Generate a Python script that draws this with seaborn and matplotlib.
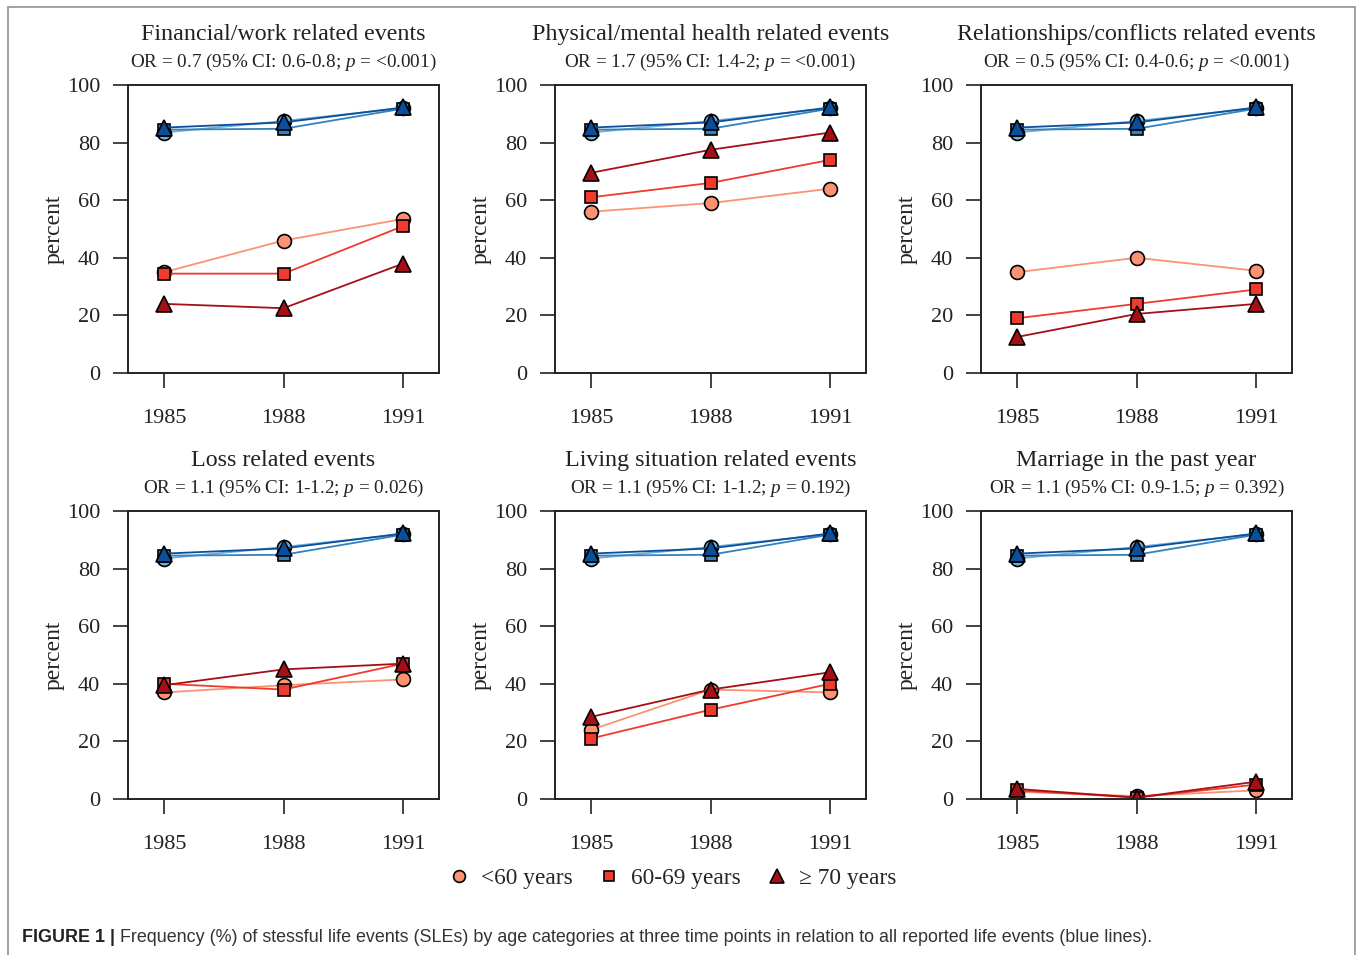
import matplotlib
matplotlib.use("Agg")
import matplotlib.pyplot as plt
import seaborn as sns
from matplotlib.lines import Line2D
from matplotlib.patches import Rectangle

# ---------------- data ----------------
years = [1985, 1988, 1991]

panel_titles = [
    "Financial/work related events",
    "Physical/mental health related events",
    "Relationships/conflicts related events",
    "Loss related events",
    "Living situation related events",
    "Marriage in the past year",
]
panel_or = ["0.7", "1.7", "0.5", "1.1", "1.1", "1.1"]
panel_ci = ["0.6-0.8", "1.4-2", "0.4-0.6", "1-1.2", "1-1.2", "0.9-1.5"]
panel_p = ["<0.001", "<0.001", "<0.001", "0.026", "0.192", "0.392"]

# stressful life events by age group (percent)
sle_lt60 = [
    [35, 46, 53.5],
    [56, 59, 64],
    [35, 40, 35.5],
    [37, 39.5, 41.5],
    [24, 38, 37],
    [2.5, 1, 3],
]
sle_60_69 = [
    [34.5, 34.5, 51],
    [61, 66, 74],
    [19, 24, 29],
    [40, 38, 47],
    [21, 31, 40],
    [3, 0.5, 5],
]
sle_ge70 = [
    [24, 22.5, 38],
    [69.5, 77.5, 83.5],
    [12.5, 20.5, 24],
    [39.5, 45, 47],
    [28.5, 38, 44],
    [3.5, 0.5, 6],
]

# all reported life events (blue lines), same in every panel
all_lt60 = [83.5, 87.5, 92]
all_60_69 = [84.5, 84.8, 91.8]
all_ge70 = [85.2, 87, 92.2]

age_labels = ["<60 years", "60-69 years", "\u2265 70 years"]
y_ticks = [0, 20, 40, 60, 80, 100]

# ---------------- style ----------------
sns.set_style("ticks")
plt.rcParams["font.family"] = ["Liberation Serif", "DejaVu Serif"]
plt.rcParams["mathtext.fontset"] = "custom"
plt.rcParams["mathtext.rm"] = "Liberation Serif"
plt.rcParams["mathtext.it"] = "Liberation Serif:italic"

red_cols = ["#FC9272", "#EF3B2C", "#A50F15"]
blue_cols = ["#6BAED6", "#3182BD", "#0B4F9C"]
markers = ["o", "s", "^"]
msizes = [10, 8.8, 11.5]

W, H = 1358, 955
fig = plt.figure(figsize=(W / 100, H / 100), dpi=100)

ax_left_px = [128, 555, 981]
ax_w_px = 311
row_top_px = [85, 511]
ax_h_px = 288

for i in range(6):
    r, c = divmod(i, 3)
    left = ax_left_px[c] / W
    bottom = 1 - (row_top_px[r] + ax_h_px) / H
    ax = fig.add_axes([left, bottom, ax_w_px / W, ax_h_px / H])

    for vals, col, m, ms in zip([all_lt60, all_60_69, all_ge70], blue_cols, markers, msizes):
        sns.lineplot(x=years, y=vals, ax=ax, color=col, marker=m, markersize=ms,
                     markeredgecolor="black", markeredgewidth=1.2, linewidth=1.3,
                     legend=False)
    for vals, col, m, ms in zip([sle_lt60[i], sle_60_69[i], sle_ge70[i]], red_cols, markers, msizes):
        sns.lineplot(x=years, y=vals, ax=ax, color=col, marker=m, markersize=ms,
                     markeredgecolor="black", markeredgewidth=1.2, linewidth=1.3,
                     legend=False)

    ax.set_xlim(1984.1, 1991.9)
    ax.set_ylim(0, 100)
    ax.set_xticks(years)
    ax.set_xticklabels([str(y) for y in years])
    ax.set_yticks(y_ticks)
    ax.tick_params(axis="both", direction="out", length=11, width=1.2,
                   labelsize=16, color="#222222", labelcolor="#222222")
    ax.tick_params(axis="x", pad=15)
    ax.tick_params(axis="y", pad=9)
    for s in ax.spines.values():
        s.set_linewidth(1.4)
        s.set_color("#222222")
    ax.set_xlabel("")
    ax.set_ylabel("percent", fontsize=17, color="#222222")
    ax.yaxis.set_label_coords(-0.205, 0.5)

    ax.text(0.5, 1.175, panel_titles[i], transform=ax.transAxes, ha="center",
            va="center", fontsize=17.3, color="#222222")
    sub = "OR = %s (95%% CI: %s; $p$ = %s)" % (panel_or[i], panel_ci[i], panel_p[i])
    ax.text(0.5, 1.08, sub, transform=ax.transAxes, ha="center", va="center",
            fontsize=13.8, color="#222222")

# legend
handles = [Line2D([], [], linestyle="none", marker=m, markersize=ms * 0.85,
                  markerfacecolor=col, markeredgecolor="black", markeredgewidth=1.2)
           for m, col, ms in zip(markers, red_cols, msizes)]
fig.legend(handles, age_labels, loc="center", bbox_to_anchor=(0.4945, 1 - 878 / H),
           ncol=3, frameon=False, fontsize=16.8, handletextpad=0.45,
           columnspacing=1.05, handlelength=1.0)

# outer frame
fig.patches.append(Rectangle((8 / W, -0.05), (1355 - 8) / W, 1.05 - 7 / H,
                             transform=fig.transFigure, fill=False,
                             edgecolor="#9a9a9a", linewidth=1.3))

# caption
cap_y = 1 - 937 / H
t1 = fig.text(22 / W, cap_y, "FIGURE 1 |", fontsize=12.85, fontweight="bold",
              family="Liberation Sans", va="center", color="#222222")
fig.canvas.draw()
bb = t1.get_window_extent()
fig.text(bb.x1 / W + 5 / W, cap_y,
         "Frequency (%) of stessful life events (SLEs) by age categories at three time points in relation to all reported life events (blue lines).",
         fontsize=12.85, family="Liberation Sans", va="center", color="#333333")

fig.savefig("out.png", dpi=100)
